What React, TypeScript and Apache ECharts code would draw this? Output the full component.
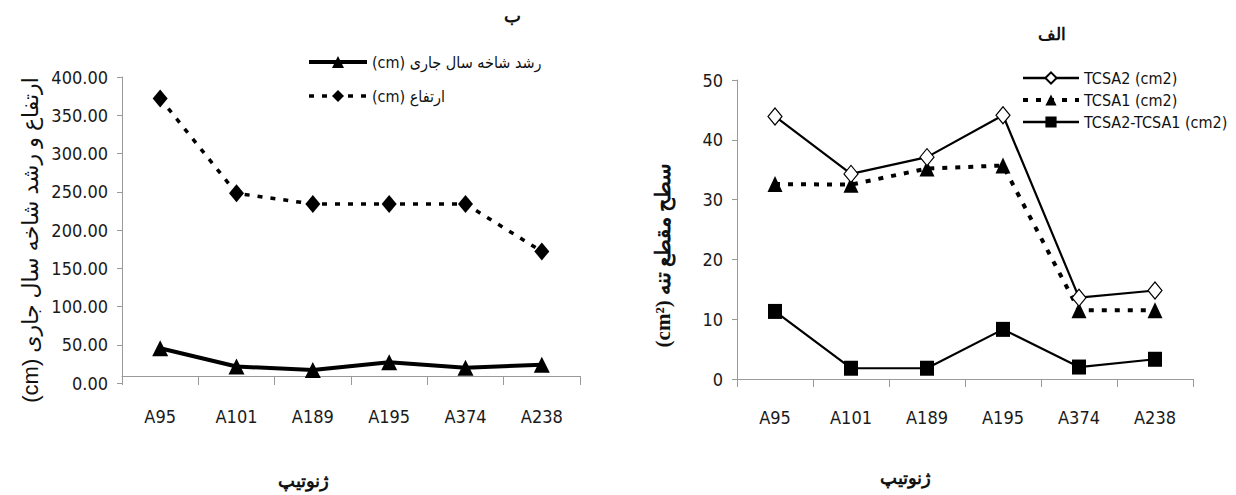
import React, { useEffect, useRef } from "react";
import * as echarts from "echarts";

const genotypes = ["A95", "A101", "A189", "A195", "A374", "A238"];

// Left panel (ب)
const shootGrowth = [45.5, 21.5, 17, 27, 20, 24];
const treeHeight = [372, 248, 234, 234, 234, 172];
const growthName = "(cm) رشد شاخه سال جاری";
const heightName = "(cm) ارتفاع";

// Right panel (الف)
const tcsa2 = [43.9, 34.3, 37.1, 44.1, 13.6, 14.8];
const tcsa1 = [32.6, 32.5, 35.2, 35.7, 11.5, 11.5];
const tcsaDiff = [11.3, 1.8, 1.8, 8.3, 2.0, 3.3];
const tcsa2Name = "TCSA2 (cm2)";
const tcsa1Name = "TCSA1 (cm2)";
const diffName = "TCSA2-TCSA1 (cm2)";

const narrow = "'Liberation Sans Narrow', 'DejaVu Sans Condensed', 'Liberation Sans', sans-serif";
const serif = "'Liberation Serif', 'DejaVu Serif', serif";
const arabicSans = "'Liberation Sans', 'DejaVu Sans', sans-serif";

export default function App() {
  const ref = useRef<HTMLDivElement>(null);
  useEffect(() => {
    document.body.style.margin = "0";
    const chart = echarts.init(ref.current!, undefined, { renderer: "svg" });
    const axisLineStyle = { color: "#9a9a9a", width: 1 };
    const labelStyle = { color: "#1a1a1a", fontSize: 18, fontFamily: narrow };
    chart.setOption({
      animation: false,
      backgroundColor: "#ffffff",
      grid: [
        { left: 122, top: 77, width: 458, height: 306 },
        { left: 737, top: 80, width: 456, height: 299 },
      ],
      xAxis: [
        {
          type: "category",
          gridIndex: 0,
          data: genotypes,
          boundaryGap: true,
          offset: -7,
          axisLine: { onZero: false, lineStyle: axisLineStyle },
          axisTick: { show: true, length: 9, lineStyle: axisLineStyle },
          axisLabel: { ...labelStyle, margin: 31 },
          splitLine: { show: false },
        },
        {
          type: "category",
          gridIndex: 1,
          data: genotypes,
          boundaryGap: true,
          axisLine: { onZero: false, lineStyle: axisLineStyle },
          axisTick: { show: true, length: 8, lineStyle: axisLineStyle },
          axisLabel: { ...labelStyle, margin: 29 },
          splitLine: { show: false },
        },
      ],
      yAxis: [
        {
          type: "value",
          gridIndex: 0,
          min: 0,
          max: 400,
          interval: 50,
          axisLine: { show: true, lineStyle: axisLineStyle },
          axisTick: { show: true, length: 5, lineStyle: axisLineStyle },
          axisLabel: { ...labelStyle, margin: 14, formatter: (v: number) => v.toFixed(2) },
          splitLine: { show: false },
        },
        {
          type: "value",
          gridIndex: 1,
          min: 0,
          max: 50,
          interval: 10,
          axisLine: { show: true, lineStyle: axisLineStyle },
          axisTick: { show: true, length: 5, lineStyle: axisLineStyle },
          axisLabel: { ...labelStyle, margin: 14 },
          splitLine: { show: false },
        },
      ],
      legend: [
        {
          data: [
            { name: growthName, lineStyle: { width: 4 } },
            { name: heightName, lineStyle: { width: 3.5 } },
          ],
          left: 302,
          top: 49,
          orient: "vertical",
          itemWidth: 58,
          itemHeight: 15,
          itemGap: 18,
          textStyle: { fontSize: 16, fontFamily: narrow, color: "#111" },
        },
        {
          data: [
            { name: tcsa2Name, lineStyle: { width: 2.5 } },
            { name: tcsa1Name, lineStyle: { width: 4 } },
            { name: diffName, lineStyle: { width: 2.5 } },
          ],
          left: 1016,
          top: 65,
          orient: "vertical",
          itemWidth: 56,
          itemHeight: 14,
          itemGap: 6,
          textStyle: { fontSize: 16, fontFamily: narrow, color: "#111" },
        },
      ],
      series: [
        {
          name: growthName,
          type: "line",
          xAxisIndex: 0,
          yAxisIndex: 0,
          data: shootGrowth,
          symbol: "triangle",
          symbolSize: [16, 16],
          lineStyle: { color: "#000", width: 4 },
          itemStyle: { color: "#000" },
        },
        {
          name: heightName,
          type: "line",
          xAxisIndex: 0,
          yAxisIndex: 0,
          data: treeHeight,
          symbol: "diamond",
          symbolSize: [15, 18],
          lineStyle: { color: "#000", width: 3.5, type: [5, 8] },
          itemStyle: { color: "#000" },
        },
        {
          name: tcsa1Name,
          type: "line",
          xAxisIndex: 1,
          yAxisIndex: 1,
          data: tcsa1,
          symbol: "triangle",
          symbolSize: [15, 16],
          lineStyle: { color: "#000", width: 4, type: [5, 8] },
          itemStyle: { color: "#000" },
        },
        {
          name: tcsa2Name,
          type: "line",
          xAxisIndex: 1,
          yAxisIndex: 1,
          data: tcsa2,
          symbol: "diamond",
          symbolSize: [14, 17],
          lineStyle: { color: "#000", width: 2.2 },
          itemStyle: { color: "#fff", borderColor: "#000", borderWidth: 1.2 },
        },
        {
          name: diffName,
          type: "line",
          xAxisIndex: 1,
          yAxisIndex: 1,
          data: tcsaDiff,
          symbol: "rect",
          symbolSize: [14, 15],
          lineStyle: { color: "#000", width: 2.2 },
          itemStyle: { color: "#000" },
        },
      ],
      graphic: [
        {
          type: "text",
          x: 512,
          y: 16,
          style: { text: "ب", fontSize: 18, fontWeight: "bold", fontFamily: serif, fill: "#111", align: "center", verticalAlign: "middle" },
        },
        {
          type: "text",
          x: 1052,
          y: 34,
          style: { text: "الف", fontSize: 17, fontWeight: "bold", fontFamily: serif, fill: "#111", align: "center", verticalAlign: "middle" },
        },
        {
          type: "text",
          x: 30,
          y: 240,
          rotation: Math.PI / 2,
          style: { text: "(cm) ارتفاع و رشد شاخه سال جاری", fontSize: 22, fontFamily: arabicSans, fill: "#111", align: "center", verticalAlign: "middle" },
        },
        {
          type: "text",
          x: 663,
          y: 255,
          rotation: Math.PI / 2,
          style: { text: "(cm²) سطح مقطع تنه", fontSize: 21, fontWeight: "bold", fontFamily: serif, fill: "#111", align: "center", verticalAlign: "middle" },
        },
        {
          type: "text",
          x: 303,
          y: 481,
          style: { text: "ژنوتیپ", fontSize: 18, fontWeight: "bold", fontFamily: serif, fill: "#111", align: "center", verticalAlign: "middle" },
        },
        {
          type: "text",
          x: 905,
          y: 478,
          style: { text: "ژنوتیپ", fontSize: 18, fontWeight: "bold", fontFamily: serif, fill: "#111", align: "center", verticalAlign: "middle" },
        },
      ],
    });
    return () => chart.dispose();
  }, []);
  return <div ref={ref} style={{ width: 1236, height: 495 }} />;
}
